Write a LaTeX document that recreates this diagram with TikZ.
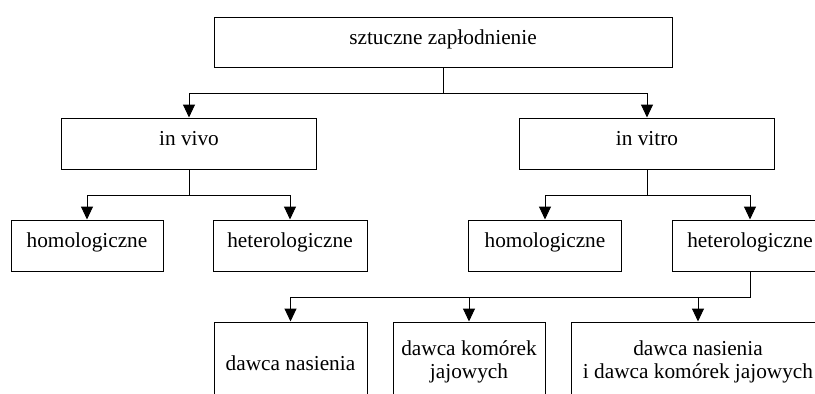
\documentclass[tikz,border=0pt]{standalone}
\usepackage{fontspec}
\setmainfont{Liberation Serif}
\usetikzlibrary{arrows.meta}
\begin{document}
\begin{tikzpicture}[x=1pt,y=1pt,
  every node/.style={font=\fontsize{21.3}{23}\selectfont, inner sep=0pt},
  box/.style={draw, line width=1pt, rectangle, text height=12pt, text depth=7.2pt},
  lowbox/.style={draw, line width=1pt, rectangle, minimum height=90pt},
  conn/.style={line width=1pt},
  arr/.style={line width=1pt, -{Triangle[width=12pt,length=13pt]}}
]
\clip (0,0) rectangle (815,-394);
% level 1
\node[box, minimum width=458pt, minimum height=50pt] (top) at (443,-42) {sztuczne zapłodnienie};
% level 2
\node[box, minimum width=255pt, minimum height=51pt] (vivo) at (189,-143.5) {in vivo};
\node[box, minimum width=255pt, minimum height=51pt] (vitro) at (647,-143.5) {in vitro};
% level 3
\node[box, minimum width=152pt, minimum height=51pt] (homL) at (87,-245.5) {homologiczne};
\node[box, minimum width=154pt, minimum height=51pt] (hetL) at (290,-245.5) {heterologiczne};
\node[box, minimum width=153pt, minimum height=51pt] (homR) at (545,-245.5) {homologiczne};
\node[box, minimum width=156pt, minimum height=51pt] (hetR) at (750,-245.5) {heterologiczne};
% level 4
\node[lowbox, minimum width=153pt] (b1) at (290.5,-367) {};
\node[lowbox, minimum width=152pt] (b2) at (469,-367) {};
\node[lowbox, minimum width=253pt] (b3) at (698,-367) {};
\node[anchor=base] (b1t) at (290.5,-370) {dawca nasienia};
\node[anchor=base] (b2t) at (469,-355) {dawca komórek};
\node[anchor=base] (b2u) at (469,-378) {jajowych};
\node[anchor=base] (b3t) at (698,-355) {dawca nasienia};
\node[anchor=base] (b3u) at (698,-378) {i dawca komórek jajowych};
% connectors
\draw[arr] (top.south) -- ++(0,-26) -| (vivo.north);
\draw[arr] (top.south) -- ++(0,-26) -| (vitro.north);
\draw[arr] (vivo.south) -- ++(0,-26) -| (homL.north);
\draw[arr] (vivo.south) -- ++(0,-26) -| (hetL.north);
\draw[arr] (vitro.south) -- ++(0,-26) -| (homR.north);
\draw[arr] (vitro.south) -- ++(0,-26) -| (hetR.north);
\draw[arr] (hetR.south) -- ++(0,-26) -| (b1.north);
\draw[arr] (hetR.south) -- ++(0,-26) -| (b2.north);
\draw[arr] (hetR.south) -- ++(0,-26) -| (b3.north);
\end{tikzpicture}
\end{document}
